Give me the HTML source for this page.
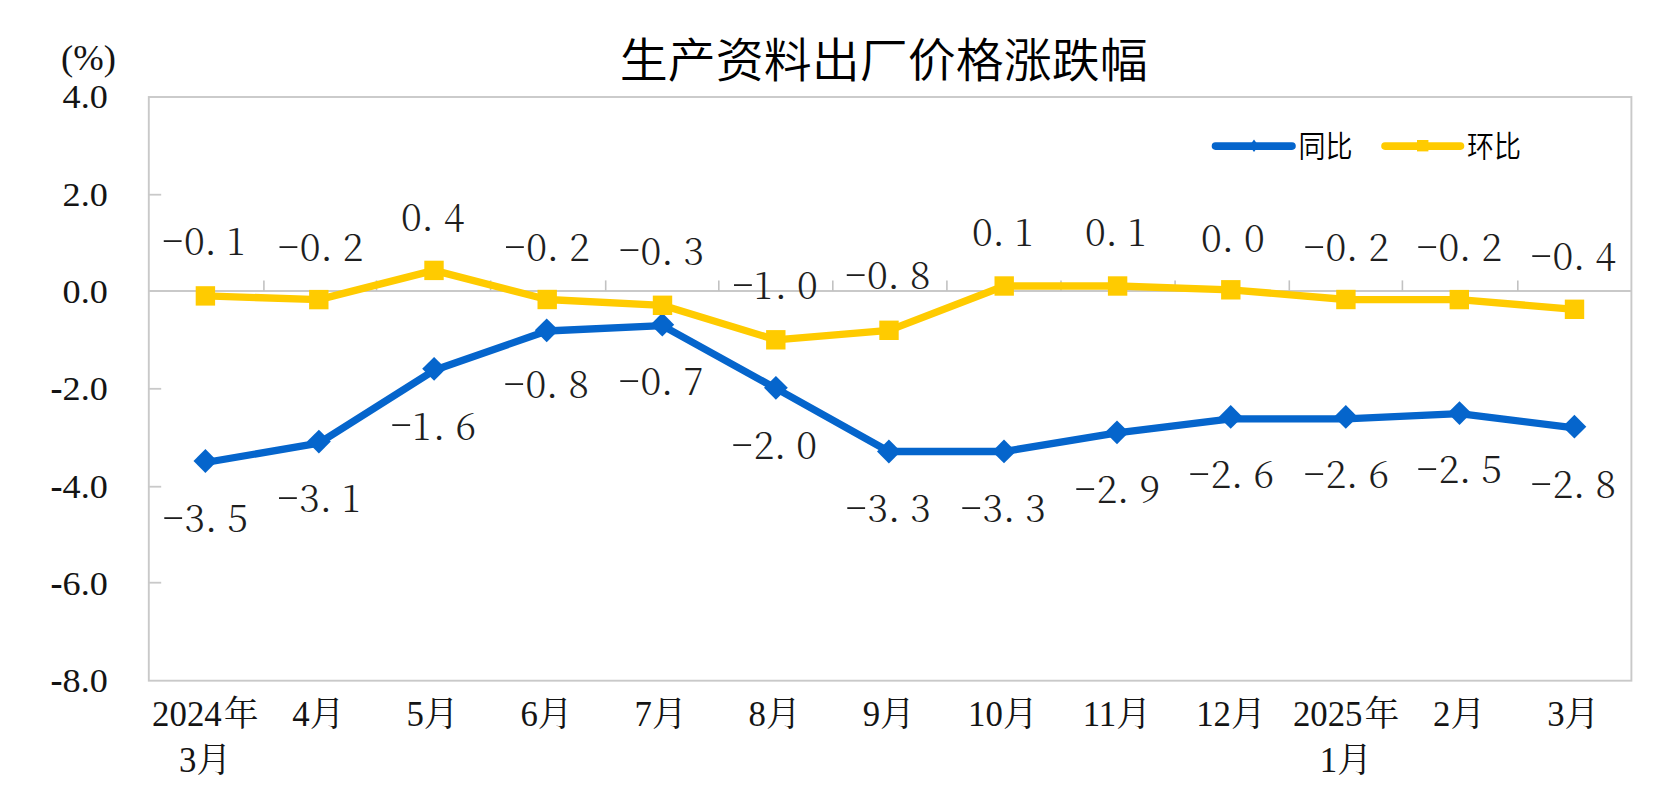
<!DOCTYPE html>
<html lang="zh-CN">
<head>
<meta charset="utf-8">
<title>生产资料出厂价格涨跌幅</title>
<style>
html,body{margin:0;padding:0;background:#fff;}
body{width:1658px;height:795px;overflow:hidden;}
svg{display:block;}
.ax{font-family:"Liberation Serif","Noto Serif CJK SC",serif;font-size:34.8px;fill:#141414;}
.dl{font-family:"Noto Serif CJK SC","Liberation Serif",serif;font-weight:300;font-size:37.8px;fill:#1e1e1e;}
.tt{font-family:"Liberation Sans","Noto Sans CJK SC",sans-serif;font-weight:350;font-size:48px;fill:#000;}
.lg{font-family:"Liberation Sans","Noto Sans CJK SC",sans-serif;font-weight:350;font-size:27px;fill:#000;}
</style>
</head>
<body>
<svg width="1658" height="795" viewBox="0 0 1658 795">
<rect x="0" y="0" width="1658" height="795" fill="#fff"/>
<text class="tt" transform="translate(883.8,77.4) scale(1,0.965)" text-anchor="middle">生产资料出厂价格涨跌幅</text>
<rect x="148.8" y="97.0" width="1482.6" height="583.7" fill="none" stroke="#c9c9c9" stroke-width="1.9"/>
<line x1="148.4" y1="194.7" x2="161.2" y2="194.7" stroke="#c9c9c9" stroke-width="1.8"/>
<line x1="148.4" y1="388.8" x2="161.2" y2="388.8" stroke="#c9c9c9" stroke-width="1.8"/>
<line x1="148.4" y1="486.7" x2="161.2" y2="486.7" stroke="#c9c9c9" stroke-width="1.8"/>
<line x1="148.4" y1="582.7" x2="161.2" y2="582.7" stroke="#c9c9c9" stroke-width="1.8"/>
<line x1="148.4" y1="290.9" x2="1631.4" y2="290.9" stroke="#c9c9c9" stroke-width="2"/>
<line x1="263.9" y1="290.9" x2="263.9" y2="280.4" stroke="#c2c2c2" stroke-width="1.6"/>
<line x1="376.5" y1="290.9" x2="376.5" y2="280.4" stroke="#c2c2c2" stroke-width="1.6"/>
<line x1="490.6" y1="290.9" x2="490.6" y2="280.4" stroke="#c2c2c2" stroke-width="1.6"/>
<line x1="605.7" y1="290.9" x2="605.7" y2="280.4" stroke="#c2c2c2" stroke-width="1.6"/>
<line x1="718.8" y1="290.9" x2="718.8" y2="280.4" stroke="#c2c2c2" stroke-width="1.6"/>
<line x1="832.8" y1="290.9" x2="832.8" y2="280.4" stroke="#c2c2c2" stroke-width="1.6"/>
<line x1="946.9" y1="290.9" x2="946.9" y2="280.4" stroke="#c2c2c2" stroke-width="1.6"/>
<line x1="1061.0" y1="290.9" x2="1061.0" y2="280.4" stroke="#c2c2c2" stroke-width="1.6"/>
<line x1="1175.1" y1="290.9" x2="1175.1" y2="280.4" stroke="#c2c2c2" stroke-width="1.6"/>
<line x1="1289.3" y1="290.9" x2="1289.3" y2="280.4" stroke="#c2c2c2" stroke-width="1.6"/>
<line x1="1402.4" y1="290.9" x2="1402.4" y2="280.4" stroke="#c2c2c2" stroke-width="1.6"/>
<line x1="1517.8" y1="290.9" x2="1517.8" y2="280.4" stroke="#c2c2c2" stroke-width="1.6"/>
<text class="ax" x="61.0" y="70.4" style="font-size:36.6px">(%)</text>
<text class="ax" transform="translate(107.8,108.4) scale(1.04,0.97)" text-anchor="end">4.0</text>
<text class="ax" transform="translate(107.8,205.7) scale(1.04,0.97)" text-anchor="end">2.0</text>
<text class="ax" transform="translate(107.8,303.0) scale(1.04,0.97)" text-anchor="end">0.0</text>
<text class="ax" transform="translate(107.8,400.2) scale(1.04,0.97)" text-anchor="end"><tspan font-weight="bold">-</tspan>2.0</text>
<text class="ax" transform="translate(107.8,497.5) scale(1.04,0.97)" text-anchor="end"><tspan font-weight="bold">-</tspan>4.0</text>
<text class="ax" transform="translate(107.8,594.8) scale(1.04,0.97)" text-anchor="end"><tspan font-weight="bold">-</tspan>6.0</text>
<text class="ax" transform="translate(107.8,692.1) scale(1.04,0.97)" text-anchor="end"><tspan font-weight="bold">-</tspan>8.0</text>
<text class="ax" x="205.3" y="725.6" text-anchor="middle">2024<tspan dx="2">年</tspan></text>
<text class="ax" x="205.1" y="772.2" text-anchor="middle">3月</text>
<text class="ax" x="318.4" y="725.6" text-anchor="middle">4月</text>
<text class="ax" x="432.5" y="725.6" text-anchor="middle">5月</text>
<text class="ax" x="546.5" y="725.6" text-anchor="middle">6月</text>
<text class="ax" x="660.6" y="725.6" text-anchor="middle">7月</text>
<text class="ax" x="774.7" y="725.6" text-anchor="middle">8月</text>
<text class="ax" x="888.8" y="725.6" text-anchor="middle">9月</text>
<text class="ax" x="1002.9" y="725.6" text-anchor="middle">10月</text>
<text class="ax" x="1116.9" y="725.6" text-anchor="middle">11月</text>
<text class="ax" x="1231.0" y="725.6" text-anchor="middle">12月</text>
<text class="ax" x="1346.1" y="725.6" text-anchor="middle">2025<tspan dx="2">年</tspan></text>
<text class="ax" x="1345.9" y="772.2" text-anchor="middle">1月</text>
<text class="ax" x="1459.2" y="725.6" text-anchor="middle">2月</text>
<text class="ax" x="1573.3" y="725.6" text-anchor="middle">3月</text>
<polyline points="205.4,462.5 318.9,443.1 434.1,370.3 546.7,331.0 662.3,325.6 775.9,388.4 888.9,451.5 1004.0,451.5 1117.0,432.8 1230.7,418.8 1345.8,418.8 1459.5,413.7 1574.4,427.9" fill="none" stroke="#0565CC" stroke-width="7.3" stroke-linejoin="round" stroke-linecap="round"/>
<path d="M205.4 449.1L217.3 461.0L205.4 472.9L193.5 461.0Z" fill="#0565CC"/>
<path d="M318.9 429.7L330.8 441.6L318.9 453.5L307.0 441.6Z" fill="#0565CC"/>
<path d="M434.1 356.9L446.0 368.8L434.1 380.7L422.2 368.8Z" fill="#0565CC"/>
<path d="M546.7 318.4L558.6 330.3L546.7 342.2L534.8 330.3Z" fill="#0565CC"/>
<path d="M662.3 312.8L674.2 324.7L662.3 336.6L650.4 324.7Z" fill="#0565CC"/>
<path d="M775.9 375.9L787.8 387.8L775.9 399.7L764.0 387.8Z" fill="#0565CC"/>
<path d="M888.9 439.6L900.8 451.5L888.9 463.4L877.0 451.5Z" fill="#0565CC"/>
<path d="M1004.0 439.5L1015.9 451.4L1004.0 463.3L992.1 451.4Z" fill="#0565CC"/>
<path d="M1117.0 420.4L1128.9 432.3L1117.0 444.2L1105.1 432.3Z" fill="#0565CC"/>
<path d="M1230.7 405.0L1242.6 416.9L1230.7 428.8L1218.8 416.9Z" fill="#0565CC"/>
<path d="M1345.8 405.0L1357.7 416.9L1345.8 428.8L1333.9 416.9Z" fill="#0565CC"/>
<path d="M1459.5 401.2L1471.4 413.1L1459.5 425.0L1447.6 413.1Z" fill="#0565CC"/>
<path d="M1574.4 414.8L1586.3 426.7L1574.4 438.6L1562.5 426.7Z" fill="#0565CC"/>
<polyline points="205.4,295.9 318.8,299.6 434.0,270.4 547.2,299.5 662.5,305.3 775.8,339.8 889.0,330.3 1004.2,286.0 1117.6,286.0 1230.8,289.8 1345.9,299.5 1459.3,299.6 1574.5,309.3" fill="none" stroke="#FFCB00" stroke-width="7.3" stroke-linejoin="round" stroke-linecap="round"/>
<rect x="195.7" y="286.2" width="19.4" height="19.4" fill="#FFCB00"/>
<rect x="309.1" y="289.9" width="19.4" height="19.4" fill="#FFCB00"/>
<rect x="424.3" y="260.7" width="19.4" height="19.4" fill="#FFCB00"/>
<rect x="537.5" y="289.8" width="19.4" height="19.4" fill="#FFCB00"/>
<rect x="652.8" y="295.6" width="19.4" height="19.4" fill="#FFCB00"/>
<rect x="766.1" y="330.1" width="19.4" height="19.4" fill="#FFCB00"/>
<rect x="879.3" y="320.6" width="19.4" height="19.4" fill="#FFCB00"/>
<rect x="994.5" y="276.3" width="19.4" height="19.4" fill="#FFCB00"/>
<rect x="1107.9" y="276.3" width="19.4" height="19.4" fill="#FFCB00"/>
<rect x="1221.1" y="280.1" width="19.4" height="19.4" fill="#FFCB00"/>
<rect x="1336.2" y="289.8" width="19.4" height="19.4" fill="#FFCB00"/>
<rect x="1449.6" y="289.9" width="19.4" height="19.4" fill="#FFCB00"/>
<rect x="1564.8" y="299.6" width="19.4" height="19.4" fill="#FFCB00"/>
<text class="dl" y="255.3"><tspan x="160.7" dy="-4.5" textLength="23.9" lengthAdjust="spacingAndGlyphs">-</tspan><tspan x="183.9 204.5 226.7" dy="4.5">0.1</tspan></text>
<text class="dl" y="261.3"><tspan x="276.6" dy="-4.5" textLength="23.9" lengthAdjust="spacingAndGlyphs">-</tspan><tspan x="299.8 320.4 342.6" dy="4.5">0.2</tspan></text>
<text class="dl" y="231.4"><tspan x="400.9 421.5 443.7">0.4</tspan></text>
<text class="dl" y="261.3"><tspan x="503.0" dy="-4.5" textLength="23.9" lengthAdjust="spacingAndGlyphs">-</tspan><tspan x="526.2 546.8 569.0" dy="4.5">0.2</tspan></text>
<text class="dl" y="264.9"><tspan x="617.4" dy="-4.5" textLength="23.9" lengthAdjust="spacingAndGlyphs">-</tspan><tspan x="640.6 661.2 683.4" dy="4.5">0.3</tspan></text>
<text class="dl" y="299.4"><tspan x="730.9" dy="-4.5" textLength="23.9" lengthAdjust="spacingAndGlyphs">-</tspan><tspan x="754.1 774.7 796.9" dy="4.5">1.0</tspan></text>
<text class="dl" y="289.2"><tspan x="843.8" dy="-4.5" textLength="23.9" lengthAdjust="spacingAndGlyphs">-</tspan><tspan x="867.0 887.6 909.8" dy="4.5">0.8</tspan></text>
<text class="dl" y="246.2"><tspan x="971.9 992.5 1014.7">0.1</tspan></text>
<text class="dl" y="246.2"><tspan x="1084.9 1105.5 1127.7">0.1</tspan></text>
<text class="dl" y="252.0"><tspan x="1201.1 1221.7 1243.9">0.0</tspan></text>
<text class="dl" y="261.0"><tspan x="1302.2" dy="-4.5" textLength="23.9" lengthAdjust="spacingAndGlyphs">-</tspan><tspan x="1325.4 1346.0 1368.2" dy="4.5">0.2</tspan></text>
<text class="dl" y="261.0"><tspan x="1415.2" dy="-4.5" textLength="23.9" lengthAdjust="spacingAndGlyphs">-</tspan><tspan x="1438.4 1459.0 1481.2" dy="4.5">0.2</tspan></text>
<text class="dl" y="270.0"><tspan x="1529.2" dy="-4.5" textLength="23.9" lengthAdjust="spacingAndGlyphs">-</tspan><tspan x="1552.4 1573.0 1595.2" dy="4.5">0.4</tspan></text>
<text class="dl" y="532.0"><tspan x="161.2" dy="-4.5" textLength="23.9" lengthAdjust="spacingAndGlyphs">-</tspan><tspan x="184.4 205.0 227.2" dy="4.5">3.5</tspan></text>
<text class="dl" y="512.2"><tspan x="276.0" dy="-4.5" textLength="23.9" lengthAdjust="spacingAndGlyphs">-</tspan><tspan x="299.2 319.8 342.0" dy="4.5">3.1</tspan></text>
<text class="dl" y="439.5"><tspan x="389.2" dy="-4.5" textLength="23.9" lengthAdjust="spacingAndGlyphs">-</tspan><tspan x="412.4 433.0 455.2" dy="4.5">1.6</tspan></text>
<text class="dl" y="398.0"><tspan x="502.2" dy="-4.5" textLength="23.9" lengthAdjust="spacingAndGlyphs">-</tspan><tspan x="525.4 546.0 568.2" dy="4.5">0.8</tspan></text>
<text class="dl" y="395.0"><tspan x="617.2" dy="-4.5" textLength="23.9" lengthAdjust="spacingAndGlyphs">-</tspan><tspan x="640.4 661.0 683.2" dy="4.5">0.7</tspan></text>
<text class="dl" y="459.0"><tspan x="730.2" dy="-4.5" textLength="23.9" lengthAdjust="spacingAndGlyphs">-</tspan><tspan x="753.4 774.0 796.2" dy="4.5">2.0</tspan></text>
<text class="dl" y="522.0"><tspan x="844.2" dy="-4.5" textLength="23.9" lengthAdjust="spacingAndGlyphs">-</tspan><tspan x="867.4 888.0 910.2" dy="4.5">3.3</tspan></text>
<text class="dl" y="522.0"><tspan x="959.2" dy="-4.5" textLength="23.9" lengthAdjust="spacingAndGlyphs">-</tspan><tspan x="982.4 1003.0 1025.2" dy="4.5">3.3</tspan></text>
<text class="dl" y="503.0"><tspan x="1073.2" dy="-4.5" textLength="23.9" lengthAdjust="spacingAndGlyphs">-</tspan><tspan x="1096.4 1117.0 1139.2" dy="4.5">2.9</tspan></text>
<text class="dl" y="488.0"><tspan x="1187.2" dy="-4.5" textLength="23.9" lengthAdjust="spacingAndGlyphs">-</tspan><tspan x="1210.4 1231.0 1253.2" dy="4.5">2.6</tspan></text>
<text class="dl" y="488.0"><tspan x="1302.2" dy="-4.5" textLength="23.9" lengthAdjust="spacingAndGlyphs">-</tspan><tspan x="1325.4 1346.0 1368.2" dy="4.5">2.6</tspan></text>
<text class="dl" y="483.0"><tspan x="1415.2" dy="-4.5" textLength="23.9" lengthAdjust="spacingAndGlyphs">-</tspan><tspan x="1438.4 1459.0 1481.2" dy="4.5">2.5</tspan></text>
<text class="dl" y="498.0"><tspan x="1529.2" dy="-4.5" textLength="23.9" lengthAdjust="spacingAndGlyphs">-</tspan><tspan x="1552.4 1573.0 1595.2" dy="4.5">2.8</tspan></text>
<line x1="1215.5" y1="146.1" x2="1292" y2="146.1" stroke="#0565CC" stroke-width="7.6" stroke-linecap="round"/>
<path d="M1254 139.5L1258.5 145.8L1254 152.1L1249.5 145.8Z" fill="#0565CC"/>
<text class="lg" transform="translate(1298.6,156.9) scale(1,1.1)">同比</text>
<line x1="1385" y1="146.1" x2="1460.5" y2="146.1" stroke="#FFCB00" stroke-width="7.6" stroke-linecap="round"/>
<rect x="1417" y="140" width="11.4" height="11.4" fill="#FFCB00"/>
<text class="lg" transform="translate(1466.9,156.9) scale(1,1.1)">环比</text>
</svg>
</body>
</html>
